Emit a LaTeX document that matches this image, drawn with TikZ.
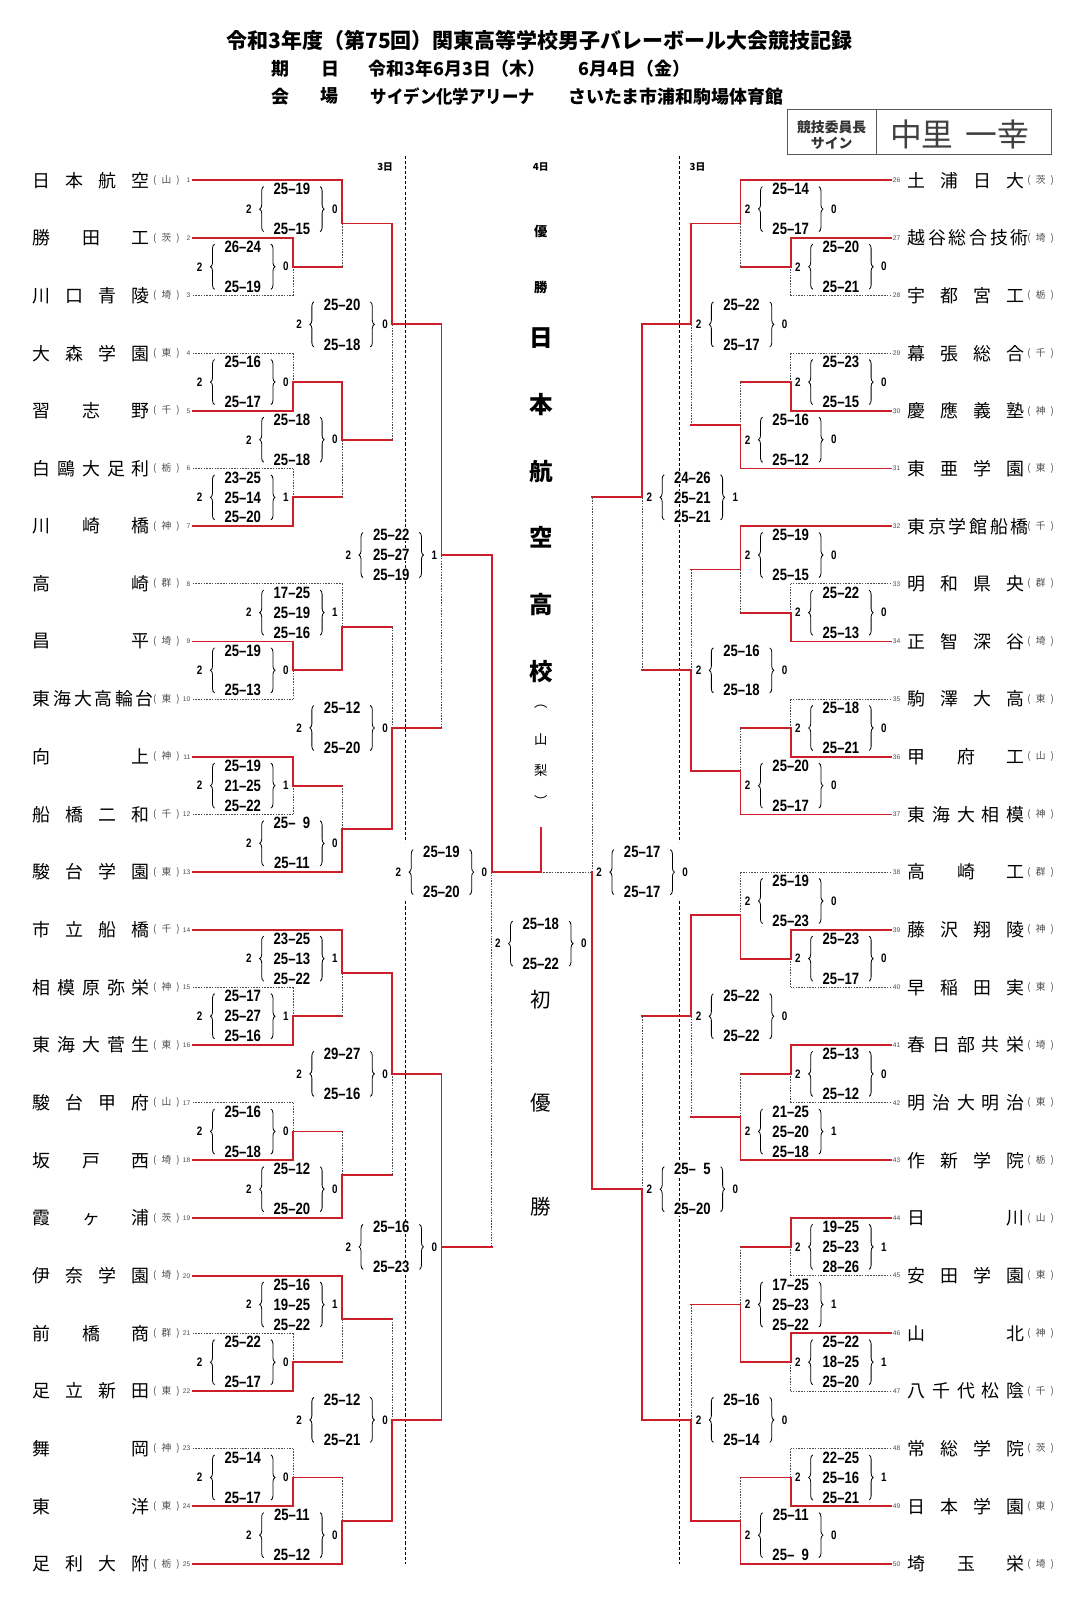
\documentclass[tikz,border=0pt]{standalone}
\usepackage{fontspec}
\usepackage{graphicx}
\usetikzlibrary{decorations.pathreplacing}
\setmainfont{Noto Sans CJK JP}
\newfontfamily\scfont[FakeStretch=0.8]{Liberation Sans}
\newfontfamily\nofont{Liberation Sans}
\definecolor{lnred}{HTML}{CC1F2A}

% bracket piece: across to the column of #2, then up/down to #2
\newcommand\lk[4]{\draw[#3] (#1) -- (#1 -| #2); \draw[#4] (#1 -| #2) -- (#2);}
% set counts and braces of one match
\newcommand\scframe[5]{%
  \node[cnt] (#1w) at ({#2-42},{ry(#3)}) {#4};
  \node[cnt] (#1l) at ({#2+42},{ry(#3)}) {#5};
  \draw[brc] ({#2-27.5},{ry(#3)+22}) -- ({#2-27.5},{ry(#3)-22});
  \draw[brc] ({#2+27.5},{ry(#3)-22}) -- ({#2+27.5},{ry(#3)+22});}
\newcommand\sctwo[7]{%
  \node[sc] (#1a) at (#2,{ry(#3)-19.5}) {#4};
  \node[sc] (#1b) at (#2,{ry(#3)+19.5}) {#5};
  \scframe{#1}{#2}{#3}{#6}{#7}}
\newcommand\scthree[8]{%
  \node[sc] (#1a) at (#2,{ry(#3)-19.5}) {#4};
  \node[sc] (#1b) at (#2,{ry(#3)}) {#5};
  \node[sc] (#1c) at (#2,{ry(#3)+19.5}) {#6};
  \scframe{#1}{#2}{#3}{#7}{#8}}

\begin{document}
\begin{tikzpicture}[x=1pt,y=-1pt,
  declare function={ry(\r)=176+(\r-1)*56.29;},
  win/.style={lnred,line width=1.8pt,line cap=rect},
  lose/.style={black!70,line width=0.7pt,dash pattern=on 1.5pt off 1.2pt},
  dayline/.style={black,line width=0.6pt,dash pattern=on 3pt off 2pt},
  sc/.style={font=\scfont\bfseries\fontsize{16}{16}\selectfont,inner sep=0.5pt,fill=white},
  cnt/.style={font=\scfont\bfseries\fontsize{12}{12}\selectfont,inner sep=0pt},
  brc/.style={decorate,decoration={brace,amplitude=4pt},line width=0.8pt},
  tname/.style={font=\fontsize{17.5}{17.5}\selectfont,inner sep=0pt},
  pref/.style={font=\fontsize{9.5}{9.5}\selectfont,text=black!70,inner sep=0pt},
  tno/.style={font=\nofont\fontsize{6.5}{6.5}\selectfont,text=black!70,inner sep=0pt},
  ttl/.style={font=\bfseries\fontsize{20.5}{20.5}\selectfont,inner sep=0pt},
  sub/.style={font=\bfseries\fontsize{17.5}{17.5}\selectfont,inner sep=0pt},
  sigtxt/.style={font=\bfseries\fontsize{13.5}{13.5}\selectfont,text=black!80,inner sep=0pt},
  signt/.style={font=\fontsize{31}{31}\selectfont,text=black!75,inner sep=0pt},
  dlab/.style={font=\bfseries\fontsize{9.5}{9.5}\selectfont,inner sep=0pt},
  cbig/.style={font=\bfseries\fontsize{23}{23}\selectfont,inner sep=0pt},
  csmall/.style={font=\bfseries\fontsize{13}{13}\selectfont,inner sep=0pt},
  cpref/.style={font=\fontsize{13}{13}\selectfont,inner sep=0pt},
  cfirst/.style={font=\fontsize{20}{20}\selectfont,inner sep=0pt}]
\useasboundingbox (0,0) rectangle (1054,1568);

% header
\node[ttl] (title) at (527,40) {令和3年度（第75回）関東高等学校男子バレーボール大会競技記録};
\node[sub] (kiL) at (273.5,67) {期};
\node[sub] (kiR) at (322.5,67) {日};
\node[sub,anchor=west] (date1) at (360,67) {令和3年6月3日（木）};
\node[sub,anchor=west] (date2) at (565,67) {6月4日（金）};
\node[sub] (kaL) at (273.5,94) {会};
\node[sub] (kaR) at (322,94) {場};
\node[sub,anchor=west] (venue1) at (362,94) {\scalebox{0.915}[1]{サイデン化学アリーナ}};
\node[sub,anchor=west] (venue2) at (555,94) {さいたま市浦和駒場体育館};
\draw[black!65,line width=0.8pt] (769,107) rectangle (1027,151);
\draw[black!65,line width=0.8pt] (855.5,107) -- (855.5,151);
\node[sigtxt] (sig1) at (812,124) {競技委員長};
\node[sigtxt] (sig2) at (812,140) {サイン};
\node[signt] (sig) at (937,131) {中里\hspace{12pt}一幸};

% day marks
\node[dlab] (d3l) at (376,163) {3日};
\node[dlab] (d4) at (528,163) {4日};
\node[dlab] (d3r) at (681,163) {3日};
\draw[dayline] (396,152) -- (396,822);
\draw[dayline] (396,880) -- (396,1527);
\draw[dayline] (663,152) -- (663,822);
\draw[dayline] (663,880) -- (663,1527);

% teams
\foreach \n/\nm/\pf in {1/日 本 航 空/山,2/勝 田 工/茨,3/川 口 青 陵/埼,4/大 森 学 園/東,
  5/習 志 野/千,6/白 鷗 大 足 利/栃,7/川 崎 橋/神,8/高 崎/群,9/昌 平/埼,10/東 海 大 高 輪 台/東,
  11/向 上/神,12/船 橋 二 和/千,13/駿 台 学 園/東,14/市 立 船 橋/千,15/相 模 原 弥 栄/神,
  16/東 海 大 菅 生/東,17/駿 台 甲 府/山,18/坂 戸 西/埼,19/霞 ヶ 浦/茨,20/伊 奈 学 園/埼,
  21/前 橋 商/群,22/足 立 新 田/東,23/舞 岡/神,24/東 洋/東,25/足 利 大 附/栃}{
  \coordinate (t\n) at (188,{ry(\n)});
  \node[tname,anchor=west] (n\n) at (32,{ry(\n)}) {\makebox[114pt][s]{\nm}};
  \node[pref] (p\n) at (162.5,{ry(\n)}) {\makebox[26pt][l]{(\hfill\pf\hfill)}};
  \node[tno,anchor=east] (no\n) at (186,{ry(\n)}) {\n};
}
\foreach \n/\nm/\pf in {26/土 浦 日 大/茨,27/越 谷 総 合 技 術/埼,28/宇 都 宮 工/栃,29/幕 張 総 合/千,
  30/慶 應 義 塾/神,31/東 亜 学 園/東,32/東 京 学 館 船 橋/千,33/明 和 県 央/群,34/正 智 深 谷/埼,
  35/駒 澤 大 高/東,36/甲 府 工/山,37/東 海 大 相 模/神,38/高 崎 工/群,39/藤 沢 翔 陵/神,
  40/早 稲 田 実/東,41/春 日 部 共 栄/埼,42/明 治 大 明 治/東,43/作 新 学 院/栃,44/日 川/山,
  45/安 田 学 園/東,46/山 北/神,47/八 千 代 松 陰/千,48/常 総 学 院/茨,49/日 本 学 園/東,50/埼 玉 栄/埼}{
  \coordinate (t\n) at (870,{ry(\n-25)});
  \node[tno,anchor=west] (no\n) at (871.5,{ry(\n-25)}) {\n};
  \node[tname,anchor=west] (n\n) at (886,{ry(\n-25)}) {\makebox[114pt][s]{\nm}};
  \node[pref] (p\n) at (1016,{ry(\n-25)}) {\makebox[26pt][l]{(\hfill\pf\hfill)}};
}

% scores, left half
\sctwo{sla1}{237}{2.5}{26–24}{25–19}{2}{0}
\sctwo{sla2}{237}{4.5}{25–16}{25–17}{2}{0}
\scthree{sla3}{237}{6.5}{23–25}{25–14}{25–20}{2}{1}
\sctwo{sla4}{237}{9.5}{25–19}{25–13}{2}{0}
\scthree{sla5}{237}{11.5}{25–19}{21–25}{25–22}{2}{1}
\scthree{sla6}{237}{15.5}{25–17}{25–27}{25–16}{2}{1}
\sctwo{sla7}{237}{17.5}{25–16}{25–18}{2}{0}
\sctwo{sla8}{237}{21.5}{25–22}{25–17}{2}{0}
\sctwo{sla9}{237}{23.5}{25–14}{25–17}{2}{0}
\sctwo{slb1}{285}{1.5}{25–19}{25–15}{2}{0}
\sctwo{slb2}{285}{5.5}{25–18}{25–18}{2}{0}
\scthree{slb3}{285}{8.5}{17–25}{25–19}{25–16}{2}{1}
\sctwo{slb4}{285}{12.5}{25–\phantom{0}9}{25–11}{2}{0}
\scthree{slb5}{285}{14.5}{23–25}{25–13}{25–22}{2}{1}
\sctwo{slb6}{285}{18.5}{25–12}{25–20}{2}{0}
\scthree{slb7}{285}{20.5}{25–16}{19–25}{25–22}{2}{1}
\sctwo{slb8}{285}{24.5}{25–11}{25–12}{2}{0}
\sctwo{slc1}{334}{3.5}{25–20}{25–18}{2}{0}
\sctwo{slc2}{334}{10.5}{25–12}{25–20}{2}{0}
\sctwo{slc3}{334}{16.5}{29–27}{25–16}{2}{0}
\sctwo{slc4}{334}{22.5}{25–12}{25–21}{2}{0}
\scthree{sld1}{382}{7.5}{25–22}{25–27}{25–19}{2}{1}
\sctwo{sld2}{382}{19.5}{25–16}{25–23}{2}{0}
\sctwo{sle1}{431}{13}{25–19}{25–20}{2}{0}
\sctwo{sfin}{528}{14.24}{25–18}{25–22}{2}{0}
% scores, right half
\sctwo{sre1}{627}{13}{25–17}{25–17}{2}{0}
\scthree{srd1}{676}{6.5}{24–26}{25–21}{25–21}{2}{1}
\sctwo{srd2}{676}{18.5}{25–\phantom{0}5}{25–20}{2}{0}
\sctwo{src1}{724}{3.5}{25–22}{25–17}{2}{0}
\sctwo{src2}{724}{9.5}{25–16}{25–18}{2}{0}
\sctwo{src3}{724}{15.5}{25–22}{25–22}{2}{0}
\sctwo{src4}{724}{22.5}{25–16}{25–14}{2}{0}
\sctwo{srb1}{772}{1.5}{25–14}{25–17}{2}{0}
\sctwo{srb2}{772}{5.5}{25–16}{25–12}{2}{0}
\sctwo{srb3}{772}{7.5}{25–19}{25–15}{2}{0}
\sctwo{srb4}{772}{11.5}{25–20}{25–17}{2}{0}
\sctwo{srb5}{772}{13.5}{25–19}{25–23}{2}{0}
\scthree{srb6}{772}{17.5}{21–25}{25–20}{25–18}{2}{1}
\scthree{srb7}{772}{20.5}{17–25}{25–23}{25–22}{2}{1}
\sctwo{srb8}{772}{24.5}{25–11}{25–\phantom{0}9}{2}{0}
\sctwo{sra1}{821}{2.5}{25–20}{25–21}{2}{0}
\sctwo{sra2}{821}{4.5}{25–23}{25–15}{2}{0}
\sctwo{sra3}{821}{8.5}{25–22}{25–13}{2}{0}
\sctwo{sra4}{821}{10.5}{25–18}{25–21}{2}{0}
\sctwo{sra5}{821}{14.5}{25–23}{25–17}{2}{0}
\sctwo{sra6}{821}{16.5}{25–13}{25–12}{2}{0}
\scthree{sra7}{821}{19.5}{19–25}{25–23}{28–26}{2}{1}
\scthree{sra8}{821}{21.5}{25–22}{18–25}{25–20}{2}{1}
\scthree{sra9}{821}{23.5}{22–25}{25–16}{25–21}{2}{1}

% match points, left
\foreach \m/\r in {1/2.5,2/4.5,3/6.5,4/9.5,5/11.5,6/15.5,7/17.5,8/21.5,9/23.5}
  \coordinate (a\m) at (286,{ry(\r)});
\foreach \m/\r in {1/1.75,2/5.5,3/8.75,4/12.25,5/14.75,6/18.25,7/20.75,8/24.25}
  \coordinate (b\m) at (334,{ry(\r)});
\foreach \m/\r in {1/3.5,2/10.5,3/16.5,4/22.5}
  \coordinate (c\m) at (383,{ry(\r)});
\coordinate (d1) at (431,{ry(7.5)});
\coordinate (d2) at (431,{ry(19.5)});
\coordinate (e1) at (480,{ry(13)});
% match points, right
\foreach \m/\r in {1/2.5,2/4.5,3/8.5,4/10.5,5/14.5,6/16.5,7/19.5,8/21.5,9/23.5}
  \coordinate (ra\m) at (772,{ry(\r)});
\foreach \m/\r in {1/1.75,2/5.25,3/7.75,4/11.25,5/13.75,6/17.25,7/20.5,8/24.25}
  \coordinate (rb\m) at (723,{ry(\r)});
\foreach \m/\r in {1/3.5,2/9.5,3/15.5,4/22.5}
  \coordinate (rc\m) at (675,{ry(\r)});
\coordinate (rd1) at (627,{ry(6.5)});
\coordinate (rd2) at (627,{ry(18.5)});
\coordinate (re1) at (578,{ry(13)});
\coordinate (fin) at (528,{ry(13)});
\coordinate (champ) at (528,808);

% left bracket
\lk{t2}{a1}{win}{win} \lk{t3}{a1}{lose}{lose}
\lk{t4}{a2}{lose}{lose} \lk{t5}{a2}{win}{win}
\lk{t6}{a3}{lose}{lose} \lk{t7}{a3}{win}{win}
\lk{t9}{a4}{win}{win} \lk{t10}{a4}{lose}{lose}
\lk{t11}{a5}{win}{win} \lk{t12}{a5}{lose}{lose}
\lk{t15}{a6}{lose}{lose} \lk{t16}{a6}{win}{win}
\lk{t17}{a7}{lose}{lose} \lk{t18}{a7}{win}{win}
\lk{t21}{a8}{lose}{lose} \lk{t22}{a8}{win}{win}
\lk{t23}{a9}{lose}{lose} \lk{t24}{a9}{win}{win}
\lk{t1}{b1}{win}{win} \lk{a1}{b1}{win}{lose}
\lk{a2}{b2}{win}{win} \lk{a3}{b2}{win}{lose}
\lk{t8}{b3}{lose}{lose} \lk{a4}{b3}{win}{win}
\lk{a5}{b4}{win}{lose} \lk{t13}{b4}{win}{win}
\lk{t14}{b5}{win}{win} \lk{a6}{b5}{win}{lose}
\lk{a7}{b6}{win}{lose} \lk{t19}{b6}{win}{win}
\lk{t20}{b7}{win}{win} \lk{a8}{b7}{win}{lose}
\lk{a9}{b8}{win}{lose} \lk{t25}{b8}{win}{win}
\lk{b1}{c1}{win}{win} \lk{b2}{c1}{win}{lose}
\lk{b3}{c2}{win}{lose} \lk{b4}{c2}{win}{win}
\lk{b5}{c3}{win}{win} \lk{b6}{c3}{win}{lose}
\lk{b7}{c4}{win}{lose} \lk{b8}{c4}{win}{win}
\lk{c1}{d1}{win}{win} \lk{c2}{d1}{win}{lose}
\lk{c3}{d2}{win}{win} \lk{c4}{d2}{win}{win}
\lk{d1}{e1}{win}{win} \lk{d2}{e1}{win}{lose}

% right bracket
\lk{t27}{ra1}{win}{win} \lk{t28}{ra1}{lose}{lose}
\lk{t29}{ra2}{lose}{lose} \lk{t30}{ra2}{win}{win}
\lk{t33}{ra3}{lose}{lose} \lk{t34}{ra3}{win}{win}
\lk{t35}{ra4}{lose}{lose} \lk{t36}{ra4}{win}{win}
\lk{t39}{ra5}{win}{win} \lk{t40}{ra5}{lose}{lose}
\lk{t41}{ra6}{win}{win} \lk{t42}{ra6}{lose}{lose}
\lk{t44}{ra7}{win}{win} \lk{t45}{ra7}{lose}{lose}
\lk{t46}{ra8}{win}{win} \lk{t47}{ra8}{lose}{lose}
\lk{t48}{ra9}{lose}{lose} \lk{t49}{ra9}{win}{win}
\lk{t26}{rb1}{win}{win} \lk{ra1}{rb1}{win}{lose}
\lk{ra2}{rb2}{win}{lose} \lk{t31}{rb2}{win}{win}
\lk{t32}{rb3}{win}{win} \lk{ra3}{rb3}{win}{lose}
\lk{ra4}{rb4}{win}{lose} \lk{t37}{rb4}{win}{win}
\lk{t38}{rb5}{lose}{lose} \lk{ra5}{rb5}{win}{win}
\lk{ra6}{rb6}{win}{lose} \lk{t43}{rb6}{win}{win}
\lk{ra7}{rb7}{win}{lose} \lk{ra8}{rb7}{win}{win}
\lk{ra9}{rb8}{win}{lose} \lk{t50}{rb8}{win}{win}
\lk{rb1}{rc1}{win}{win} \lk{rb2}{rc1}{win}{lose}
\lk{rb3}{rc2}{win}{lose} \lk{rb4}{rc2}{win}{win}
\lk{rb5}{rc3}{win}{win} \lk{rb6}{rc3}{win}{lose}
\lk{rb7}{rc4}{win}{lose} \lk{rb8}{rc4}{win}{win}
\lk{rc1}{rd1}{win}{win} \lk{rc2}{rd1}{win}{lose}
\lk{rc3}{rd2}{win}{lose} \lk{rc4}{rd2}{win}{win}
\lk{rd1}{re1}{win}{lose} \lk{rd2}{re1}{win}{win}

% final
\draw[win] (e1) -- (fin);
\draw[lose] (re1) -- (fin);
\draw[win] (fin) -- (champ);

% champion
\node[csmall] (yu) at (528,226) {優};
\node[csmall] (sho) at (528,281) {勝};
\foreach \ch/\yy [count=\i] in {日/330,本/395,航/460,空/525,高/590,校/656}
  \node[cbig] (ch\i) at (528,\yy) {\ch};
\foreach \ch/\yy [count=\i] in {︵/690,山/722,梨/752,︶/782}
  \node[cpref] (cp\i) at (528,\yy) {\ch};
\foreach \ch/\yy [count=\i] in {初/976,優/1077,勝/1178}
  \node[cfirst] (cf\i) at (528,\yy) {\ch};
\end{tikzpicture}
\end{document}
